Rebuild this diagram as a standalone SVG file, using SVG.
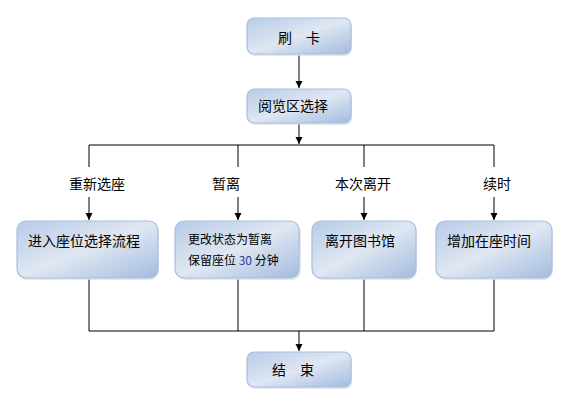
<svg xmlns="http://www.w3.org/2000/svg" width="574" height="402" viewBox="0 0 574 402">
<style>
.box{fill:url(#g);stroke:#a7bedd;stroke-width:1.2}
.sh{fill:#d8dde5;opacity:0.7}
.t{font-family:"Noto Sans CJK SC","Liberation Sans",sans-serif;font-size:14px;fill:#000}
.s{font-size:12px}
.ln{stroke:#000;stroke-width:1;fill:none}
</style>
<defs>
<linearGradient id="g" x1="0" y1="0" x2="1" y2="1">
<stop offset="0" stop-color="#b7cbe7"/>
<stop offset="0.5" stop-color="#dfe7f2"/>
<stop offset="1" stop-color="#a3bbdf"/>
</linearGradient>
<marker id="a" markerWidth="8" markerHeight="8" refX="7" refY="4" orient="auto" markerUnits="userSpaceOnUse">
<path d="M0,0.5 L7,4 L0,7.5 Z" fill="#000"/>
</marker>
</defs>
<rect width="574" height="402" fill="#fff"/>
<g id="connectors">
<line class="ln" x1="299" y1="55" x2="299" y2="88" marker-end="url(#a)"/>
<line class="ln" x1="299" y1="123" x2="299" y2="144" marker-end="url(#a)"/>
<line class="ln" x1="89" y1="145" x2="494" y2="145"/>
<line class="ln" x1="89" y1="145" x2="89" y2="167"/>
<line class="ln" x1="89" y1="197" x2="89" y2="220" marker-end="url(#a)"/>
<line class="ln" x1="238" y1="145" x2="238" y2="167"/>
<line class="ln" x1="238" y1="197" x2="238" y2="220" marker-end="url(#a)"/>
<line class="ln" x1="364" y1="145" x2="364" y2="167"/>
<line class="ln" x1="364" y1="197" x2="364" y2="220" marker-end="url(#a)"/>
<line class="ln" x1="494" y1="145" x2="494" y2="167"/>
<line class="ln" x1="494" y1="197" x2="494" y2="220" marker-end="url(#a)"/>
<polyline class="ln" points="89,279 89,331 494,331 494,279"/>
<line class="ln" x1="238" y1="279" x2="238" y2="331"/>
<line class="ln" x1="364" y1="279" x2="364" y2="331"/>
<line class="ln" x1="299" y1="331" x2="299" y2="351" marker-end="url(#a)"/>
<text class="t" x="97" y="189" text-anchor="middle">重新选座</text>
<text class="t" x="226" y="189" text-anchor="middle">暂离</text>
<text class="t" x="363" y="189" text-anchor="middle">本次离开</text>
<text class="t" x="497" y="189" text-anchor="middle">续时</text>
</g>
<g id="n-start">
<rect class="sh" x="248" y="20" width="104" height="36" rx="7"/>
<rect class="box" x="247" y="18" width="104" height="36" rx="7"/>
<text class="t" x="299" y="43" text-anchor="middle">刷　卡</text>
</g>
<g id="n-area">
<rect class="sh" x="248" y="91" width="104" height="34" rx="7"/>
<rect class="box" x="247" y="89" width="104" height="34" rx="7"/>
<text class="t" x="258" y="111">阅览区选择</text>
</g>
<g id="n-reselect">
<rect class="sh" x="18" y="223" width="141" height="57" rx="9"/>
<rect class="box" x="17" y="221" width="141" height="57" rx="9"/>
<text class="t" x="28" y="246">进入座位选择流程</text>
</g>
<g id="n-away">
<rect class="sh" x="177" y="223" width="124" height="57" rx="9"/>
<rect class="box" x="175" y="221" width="124" height="57" rx="9"/>
<text class="t s" x="188" y="244">更改状态为暂离</text>
<text class="t s" x="188" y="265">保留座位 <tspan fill="#1f3f8f">30</tspan> 分钟</text>
</g>
<g id="n-leave">
<rect class="sh" x="313" y="223" width="104" height="57" rx="9"/>
<rect class="box" x="312" y="221" width="104" height="57" rx="9"/>
<text class="t" x="325" y="246">离开图书馆</text>
</g>
<g id="n-extend">
<rect class="sh" x="437" y="223" width="116" height="57" rx="9"/>
<rect class="box" x="436" y="221" width="116" height="57" rx="9"/>
<text class="t" x="447" y="246">增加在座时间</text>
</g>
<g id="n-end">
<rect class="sh" x="248" y="354" width="104" height="35" rx="7"/>
<rect class="box" x="247" y="352" width="104" height="35" rx="7"/>
<text class="t" x="272" y="375">结　束</text>
</g>
</svg>
